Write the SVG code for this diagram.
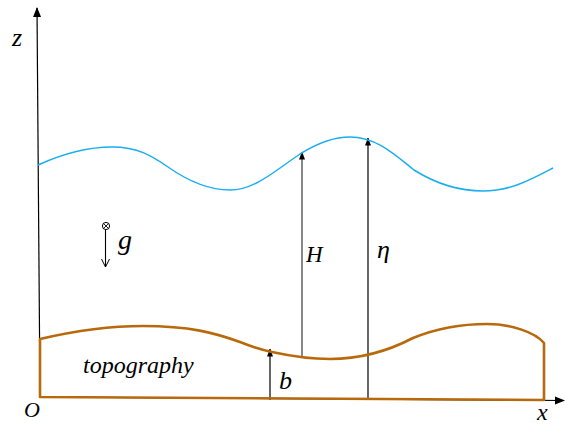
<svg xmlns="http://www.w3.org/2000/svg" width="565" height="427" viewBox="0 0 565 427">
<style>
.lbl{font-family:"Liberation Serif","DejaVu Serif","Times New Roman",serif;font-style:italic;fill:#000}
.ax{stroke:#000;stroke-width:1.2;fill:none}
.topo{stroke:#b8690c;stroke-width:2.6;fill:none;stroke-linejoin:round}
.wave{stroke:#1aaef0;stroke-width:1.5;fill:none}
</style>
<defs>
<marker id="ah" markerWidth="10" markerHeight="10" refX="9" refY="5" orient="auto" markerUnits="userSpaceOnUse">
<path d="M0,1 L10,5 L0,9 Z" fill="#000"/>
</marker>
<marker id="ahs" markerWidth="8" markerHeight="8" refX="7.5" refY="4" orient="auto" markerUnits="userSpaceOnUse">
<path d="M0,1 L8,4 L0,7 Z" fill="#000"/>
</marker>
<marker id="ao" markerWidth="10" markerHeight="10" refX="9" refY="5" orient="auto" markerUnits="userSpaceOnUse">
<path d="M1,1 L9,5 L1,9" fill="none" stroke="#000" stroke-width="1"/>
</marker>
</defs>
<g id="connectors">
<line class="ax" x1="40" y1="397" x2="37" y2="8" marker-end="url(#ah)"/>
<line class="ax" x1="40" y1="397" x2="564" y2="400.5" marker-end="url(#ah)"/>
<line x1="302" y1="357" x2="302" y2="152" stroke="#555" stroke-width="1.4" marker-end="url(#ahs)"/>
<line class="ax" x1="368" y1="400" x2="368" y2="138" marker-end="url(#ahs)"/>
<line class="ax" x1="270" y1="400" x2="270" y2="349" marker-end="url(#ahs)"/>
</g>
<g id="topography">
<path class="topo" d="M40,397 L40,339 C70,332 110,326 143,326 C190,326 215,333 240,342 C255,348 262,350 272,352 C295,357 312,359 330,359 C360,359 390,350 413,338 C440,327 465,324 487,324 C510,324 535,332 544,343 L544,400 L40,397 Z"/>
<text class="lbl" x="83" y="373" font-size="24">topography</text>
</g>
<g id="surface">
<path class="wave" d="M38,165 C60,155 88,147 112,147 C138,147 152,156 168,167 C188,181 208,190 230,190 C255,190 276,170 300,154 C316,144 332,137 350,137 C376,137 394,154 414,170 C438,185 460,191 483,191 C510,191 530,180 553,168"/>
</g>
<g id="gravity">
<circle cx="106" cy="226" r="3.6" fill="none" stroke="#000" stroke-width="1"/>
<path d="M103.5,223.5 L108.5,228.5 M108.5,223.5 L103.5,228.5" stroke="#000" stroke-width="0.9"/>
<line x1="105.5" y1="230" x2="105.5" y2="267" stroke="#000" stroke-width="1.1" marker-end="url(#ao)"/>
<text class="lbl" x="118" y="249" font-size="28">g</text>
</g>
<g id="labels">
<text class="lbl" x="12" y="46" font-size="26">z</text>
<text class="lbl" x="306" y="262" font-size="23">H</text>
<text class="lbl" x="377" y="258" font-size="26">η</text>
<text class="lbl" x="279" y="389" font-size="26">b</text>
<text class="lbl" x="24" y="417" font-size="22">O</text>
<text class="lbl" x="537" y="420" font-size="24">x</text>
</g>
</svg>
